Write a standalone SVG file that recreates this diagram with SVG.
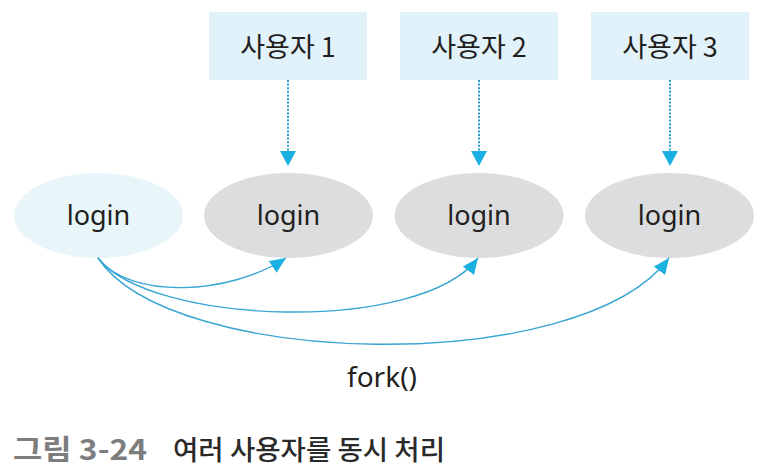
<svg xmlns="http://www.w3.org/2000/svg" width="768" height="473" viewBox="0 0 768 473">
<style>
.box{fill:#e2f2fa;}
.kr{font-family:"Noto Sans CJK KR","Noto Sans",sans-serif;fill:#231f20;}
.lat{font-family:"Noto Sans","Open Sans",sans-serif;fill:#231f20;}
.dot{stroke:#2b9ac9;stroke-width:2;stroke-dasharray:2 1.6;fill:none;}
.fork{stroke:#3aa6d3;stroke-width:1.4;fill:none;marker-end:url(#ah);}
</style>
<defs>
<marker id="ah" viewBox="0 0 16 14" refX="16" refY="7" markerWidth="16" markerHeight="14" markerUnits="userSpaceOnUse" orient="auto">
<path d="M0,0 L16,7 L0,14 Z" fill="#1bb0e2"/>
</marker>
</defs>
<rect width="768" height="473" fill="#ffffff"/>
<g id="user1"><rect class="box" x="209" y="12" width="158" height="68"/><text class="kr" x="288" y="57" font-size="27" text-anchor="middle">사용자 1</text></g>
<g id="user2"><rect class="box" x="400" y="12" width="158" height="68"/><text class="kr" x="479" y="57" font-size="27" text-anchor="middle">사용자 2</text></g>
<g id="user3"><rect class="box" x="591" y="12" width="158" height="68"/><text class="kr" x="670" y="57" font-size="27" text-anchor="middle">사용자 3</text></g>
<g id="login0"><ellipse cx="98.5" cy="215.5" rx="84.5" ry="42.5" fill="#e8f5f9"/><text class="lat" x="98.5" y="225" font-size="27" text-anchor="middle">login</text></g>
<g id="login1"><ellipse cx="288.5" cy="215.5" rx="84.5" ry="42.5" fill="#dcdddf"/><text class="lat" x="288.5" y="225" font-size="27" text-anchor="middle">login</text></g>
<g id="login2"><ellipse cx="479" cy="215.5" rx="84.5" ry="42.5" fill="#dcdddf"/><text class="lat" x="479" y="225" font-size="27" text-anchor="middle">login</text></g>
<g id="login3"><ellipse cx="669.5" cy="215.5" rx="84.5" ry="42.5" fill="#dcdddf"/><text class="lat" x="669.5" y="225" font-size="27" text-anchor="middle">login</text></g>
<g id="connectors">
<line class="dot" x1="288" y1="80" x2="288" y2="152"/>
<path d="M280,151 L296,151 L288,166 Z" fill="#1bb0e2"/>
<line class="dot" x1="479" y1="80" x2="479" y2="152"/>
<path d="M471,151 L487,151 L479,166 Z" fill="#1bb0e2"/>
<line class="dot" x1="670" y1="80" x2="670" y2="152"/>
<path d="M662,151 L678,151 L670,166 Z" fill="#1bb0e2"/>
<path class="fork" d="M98,258 C130,300 230,295 286,258"/>
<path class="fork" d="M98,258 C150,325 420,335 478,258"/>
<path class="fork" d="M98,258 C170,368 580,378 669,258"/>
</g>
<text class="lat" x="382" y="387" font-size="28" text-anchor="middle">fork()</text>
<text class="kr" x="13" y="460" font-size="28" font-weight="bold" textLength="134" lengthAdjust="spacingAndGlyphs" style="fill:#7d7d7d">그림 3-24</text>
<text class="kr" x="173" y="460" font-size="27" font-weight="500" textLength="272" lengthAdjust="spacingAndGlyphs" style="fill:#2a2a2a">여러 사용자를 동시 처리</text>
</svg>
